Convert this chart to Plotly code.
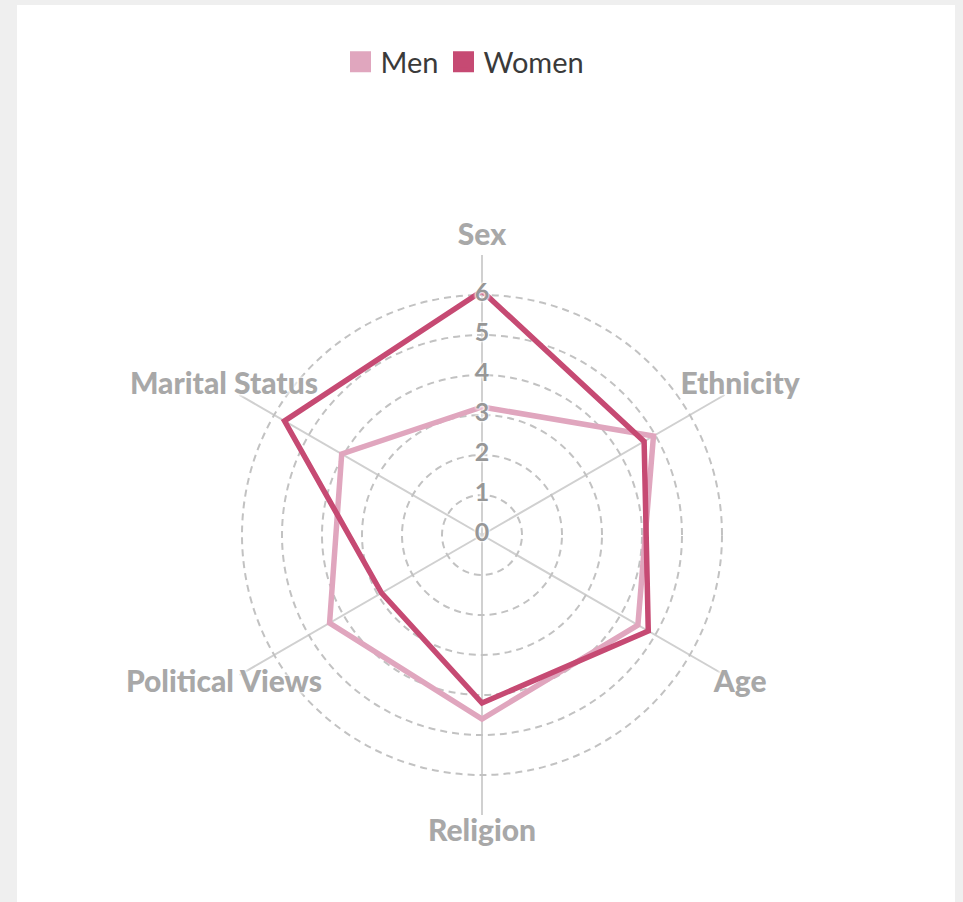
import plotly.graph_objects as go

categories = ["Sex", "Ethnicity", "Age", "Religion", "Political Views", "Marital Status"]
men = [3.2, 4.95, 4.5, 4.6, 4.4, 4.05]
women = [6.1, 4.68, 4.8, 4.2, 2.9, 5.7]
tick_vals = [0, 1, 2, 3, 4, 5, 6]
tick_text = [str(v) for v in tick_vals]

MEN_C = "#e0a6be"
WOMEN_C = "#c64a73"
LABEL_C = "#a8a8a8"
TICK_C = "#979797"

W, H = 963, 902
CX, CY = 482, 535        # polar centre in px
PX_PER_UNIT = 40
R_MAX = 7.0              # spokes end here
R_LABEL_AX = 7.7         # range of the overlay axis that carries the labels

fig = go.Figure()

def closed(v):
    return list(v) + [v[0]]

def dom(rmax):
    rp = rmax * PX_PER_UNIT
    return dict(x=[(CX - rp) / W, (CX + rp) / W],
                y=[1 - (CY + rp) / H, 1 - (CY - rp) / H])

fig.add_trace(go.Scatterpolar(
    r=closed(men), theta=closed(categories), mode="lines",
    line=dict(color=MEN_C, width=5.5), showlegend=False, name="Men",
    hoverinfo="skip"))
fig.add_trace(go.Scatterpolar(
    r=closed(women), theta=closed(categories), mode="lines",
    line=dict(color=WOMEN_C, width=5.5), showlegend=False, name="Women",
    hoverinfo="skip"))

halo = "0px 0px 3px white, 0px 0px 3px white, 0px 0px 2px white"

# radial tick labels along the Sex spoke
fig.add_trace(go.Scatterpolar(
    r=tick_vals, theta=[categories[0]] * len(tick_vals), mode="text",
    text=tick_text, textposition="middle center",
    textfont=dict(family="Lato", size=25, color=TICK_C, weight="bold",
                  shadow=halo),
    showlegend=False, hoverinfo="skip", cliponaxis=False))

# category labels just outside the spokes (overlay polar with same scale)
fig.add_trace(go.Scatterpolar(
    r=[7.45] * len(categories), theta=categories, mode="text",
    text=categories, textposition="middle center", subplot="polar2",
    textfont=dict(family="Lato", size=30, color=LABEL_C, weight=900,
                  shadow="0px 0px 4px white, 0px 0px 4px white, 0px 0px 4px white"),
    showlegend=False, hoverinfo="skip", cliponaxis=False))

# legend proxies
for name, col in [("Men", MEN_C), ("Women", WOMEN_C)]:
    fig.add_trace(go.Scatterpolar(
        r=[None], theta=[None], mode="markers", name=name,
        marker=dict(symbol="square", size=24, color=col,
                    line=dict(color=col, width=6)),
        showlegend=True))

hidden_angular = dict(direction="clockwise", rotation=90,
                      categoryorder="array", categoryarray=categories,
                      showline=False, ticks="", showticklabels=False,
                      showgrid=False)

fig.update_layout(
    width=W, height=H,
    margin=dict(l=0, r=0, t=0, b=0),
    paper_bgcolor="#efefef",
    plot_bgcolor="white",
    shapes=[dict(type="rect", xref="paper", yref="paper",
                 x0=17 / W, x1=955 / W, y0=0, y1=1 - 5 / H,
                 fillcolor="white", line=dict(width=0), layer="below")],
    showlegend=True,
    legend=dict(orientation="h", x=465 / W, xanchor="center", y=1 - 62 / H,
                yanchor="middle", font=dict(family="Lato", size=29, color="#3a3a3a"),
                itemsizing="trace", bgcolor="rgba(0,0,0,0)", itemwidth=30,
                tracegroupgap=0),
    polar=dict(
        domain=dom(R_MAX),
        bgcolor="rgba(0,0,0,0)",
        radialaxis=dict(range=[0, R_MAX], tickvals=[1, 2, 3, 4, 5, 6],
                        showticklabels=False, ticks="", showline=False,
                        gridcolor="#c2c2c2", griddash="7px,5px", gridwidth=2),
        angularaxis=dict(direction="clockwise", rotation=90,
                         categoryorder="array", categoryarray=categories,
                         showline=False, ticks="", showticklabels=False,
                         gridcolor="#d0d0d0", gridwidth=2),
    ),
    polar2=dict(
        domain=dom(R_LABEL_AX),
        bgcolor="rgba(0,0,0,0)",
        radialaxis=dict(range=[0, R_LABEL_AX], visible=False, showgrid=False),
        angularaxis=hidden_angular,
    ),
)

fig.write_html("out.html", config={"displayModeBar": False},
               post_script="document.body.style.margin='0';")
